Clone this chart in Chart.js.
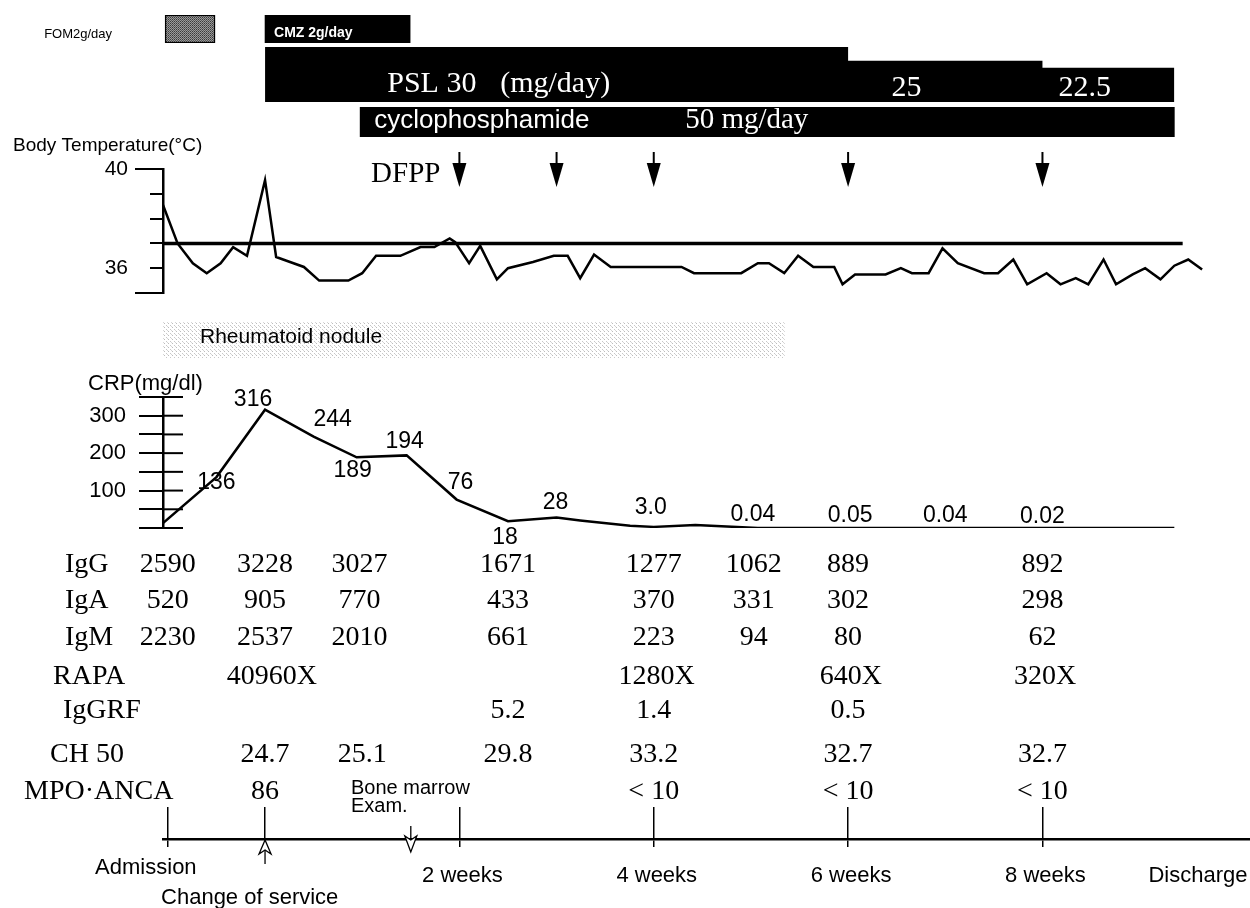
<!DOCTYPE html>
<html lang="en">
<head>
  <meta charset="UTF-8">
  <title>Clinical course</title>
  <script src="https://cdn.jsdelivr.net/npm/chart.js"></script>
  <style>
    * { margin: 0; padding: 0; box-sizing: border-box; }
    body { width: 1250px; height: 908px; background: #fff; position: relative; overflow: hidden; }
    canvas { position: absolute; left: 0; }
  </style>
</head>
<body>
  <canvas id="rowAntibiotic"></canvas>
  <canvas id="rowPsl"></canvas>
  <canvas id="rowCpa"></canvas>
  <canvas id="noduleRow"></canvas>
  <canvas id="tempChart"></canvas>
  <canvas id="timeline"></canvas>
  <canvas id="crpChart"></canvas>

  <script>
    // --- data (x = days counted from the change of service) ---
    const X_MIN = -7.35, X_MAX = 70.95;

    const fomDays = [-7.2, -3.6];
    const cmzDays = [0, 10.45];
    const pslDays = [0, 42, 56, 65.5];
    const pslDose = [30, 25, 22.5, 22.5];
    const pslText = ['PSL 30', '25', '22.5'];
    const cpaDays = [6.85, 65.5];
    const dfppDays = [14, 21, 28, 42, 56];
    const noduleDays = [-7.35, 37.4];

    const tempDays = [-7.35, -6.3, -5.2, -4.2, -3.2, -2.3, -1.3, 0, 0.8, 1.8, 2.8, 3.9, 6.0, 7.0, 8.0, 9.75,
      11.2, 12.2, 13.3, 13.7, 14.7, 15.5, 16.7, 17.5, 19.3, 20.8, 21.8, 22.7, 23.7, 24.9, 30.0, 30.9, 34.3,
      35.5, 36.3, 37.4, 38.4, 39.5, 41.0, 41.6, 42.5, 44.7, 45.8, 46.6, 47.8, 48.8, 49.9, 51.8, 52.8, 53.9,
      54.9, 56.3, 57.3, 58.4, 59.3, 60.4, 61.3, 62.5, 63.4, 64.5, 65.5, 66.5, 67.5];
    const tempValues = [38.55, 37.0, 36.2, 35.8, 36.2, 36.85, 36.5, 39.55, 36.45, 36.25, 36.05, 35.5, 35.5, 35.8,
      36.5, 36.5, 36.85, 36.85, 37.2, 37.05, 36.2, 36.9, 35.55, 36.0, 36.25, 36.5, 36.5, 35.6, 36.55, 36.05,
      36.05, 35.8, 35.8, 36.2, 36.2, 35.8, 36.5, 36.05, 36.05, 35.35, 35.75, 35.75, 36.0, 35.8, 35.8, 36.8,
      36.2, 35.8, 35.8, 36.35, 35.35, 35.8, 35.35, 35.6, 35.35, 36.35, 35.35, 35.75, 36.0, 35.55, 36.1,
      36.35, 35.95];
    const tempNormal = 37;
    const tempNormalSpan = [X_MIN, 66.1];

    const crpDays = [-7.35, -3.5, 0, 3.5, 6.6, 10.2, 13.8, 17.5, 21, 22.7, 26.3, 28, 31, 35.5, 42, 49, 56, 65.5];
    const crpValues = [13, 136, 316, 244, 189, 194, 76, 18, 28, 20, 6, 3.0, 8, 0.04, 0.05, 0.04, 0.02, 0.02];
    const crpText = [null, '136', '316', '244', '189', '194', '76', '18', '28', null, null, '3.0', null,
      '0.04', '0.05', '0.04', '0.02', null];

    const labDays = [-7, 0, 6.8, 17.5, 28, 35.2, 42, 56];
    const igG = ['2590', '3228', '3027', '1671', '1277', '1062', '889', '892'];
    const igA = ['520', '905', '770', '433', '370', '331', '302', '298'];
    const igM = ['2230', '2537', '2010', '661', '223', '94', '80', '62'];
    const rapaDays = [0.5, 28.2, 42.2, 56.2];
    const rapa = ['40960X', '1280X', '640X', '320X'];
    const igGrfDays = [17.5, 28, 42];
    const igGrf = ['5.2', '1.4', '0.5'];
    const ch50Days = [0, 7, 17.5, 28, 42, 56];
    const ch50 = ['24.7', '25.1', '29.8', '33.2', '32.7', '32.7'];
    const mpoDays = [0, 28, 42, 56];
    const mpoAnca = ['86', '< 10', '< 10', '< 10'];

    const milestoneDays = [-7, 0, 14, 28, 42, 56];
    const milestoneText = ['Admission', '', '2 weeks', '4 weeks', '6 weeks', '8 weeks'];
    const dischargeDay = 67.2;
    const serviceChangeDay = 0;
    const boneMarrowDay = 10.5;

    // --- helpers ---
    Chart.defaults.font.family = '"Liberation Sans", Arial, sans-serif';
    Chart.defaults.color = '#000';
    const AXIS_LEFT = 163;
    const SERIF = '"Liberation Serif", "Times New Roman", serif';
    const SANS = '"Liberation Sans", Arial, sans-serif';

    function setupCanvas(id, top, height) {
      const c = document.getElementById(id);
      c.width = 1250;
      c.height = height;
      c.style.top = top + 'px';
      return c;
    }

    function baseOptions(padding, scales) {
      return {
        responsive: false,
        animation: false,
        devicePixelRatio: 1,
        events: [],
        layout: { padding: padding },
        plugins: { legend: { display: false }, tooltip: { enabled: false } },
        scales: scales
      };
    }

    function dayAxis() {
      return { type: 'linear', min: X_MIN, max: X_MAX, display: false };
    }

    function toPoints(xs, ys) {
      return xs.map((x, i) => ({ x: x, y: ys[i] }));
    }

    function makePattern(size, bg, dots) {
      const p = document.createElement('canvas');
      p.width = size; p.height = size;
      const pc = p.getContext('2d');
      if (bg) { pc.fillStyle = bg; pc.fillRect(0, 0, size, size); }
      dots.forEach(d => { pc.fillStyle = d[2]; pc.fillRect(d[0], d[1], 1, 1); });
      return pc.createPattern(p, 'repeat');
    }

    const fomPattern = makePattern(2, '#9a9a9a', [[0, 0, '#3a3a3a'], [1, 1, '#5a5a5a']]);
    const nodulePattern = makePattern(4, null, [[0, 1, '#bdbdbd'], [2, 3, '#c8c8c8'], [3, 0, '#d6d6d6']]);

    function text(ctx, str, x, y, font, align, color, baseline) {
      ctx.save();
      ctx.font = font;
      ctx.textAlign = align || 'left';
      ctx.textBaseline = baseline || 'alphabetic';
      ctx.fillStyle = color || '#000';
      ctx.fillText(str, x, y);
      ctx.restore();
    }

    // --- FOM / CMZ row ---
    new Chart(setupCanvas('rowAntibiotic', 15, 28), {
      type: 'bar',
      data: {
        labels: [''],
        datasets: [
          { data: [fomDays], backgroundColor: fomPattern, borderColor: '#000', borderWidth: 1.5,
            borderSkipped: false, grouped: false, barPercentage: 1, categoryPercentage: 1 },
          { data: [cmzDays], backgroundColor: '#000', borderWidth: 0,
            grouped: false, barPercentage: 1, categoryPercentage: 1 }
        ]
      },
      options: Object.assign(baseOptions({ left: AXIS_LEFT }, { x: dayAxis(), y: { display: false } }), { indexAxis: 'y' }),
      plugins: [{
        id: 'antibioticText',
        afterDraw(chart) {
          const x = chart.scales.x;
          text(chart.ctx, 'FOM2g/day', x.getPixelForValue(fomDays[0]) - 53, 23, '13px ' + SANS, 'right');
          text(chart.ctx, 'CMZ 2g/day', x.getPixelForValue(cmzDays[0]) + 9, 22, 'bold 14px ' + SANS, 'left', '#fff');
        }
      }]
    });

    // --- PSL dose (stepped, filled) ---
    new Chart(setupCanvas('rowPsl', 47, 55), {
      type: 'line',
      data: {
        datasets: [{
          data: toPoints(pslDays, pslDose), stepped: true, fill: 'start',
          backgroundColor: '#000', borderColor: '#000', borderWidth: 0, pointRadius: 0
        }]
      },
      options: baseOptions({ left: AXIS_LEFT }, { x: dayAxis(), y: { type: 'linear', min: 10, max: 30, display: false } }),
      plugins: [{
        id: 'pslText',
        afterDraw(chart) {
          const x = chart.scales.x;
          const font = '30px ' + SERIF;
          const x0 = x.getPixelForValue(pslDays[0] + 8.8);
          text(chart.ctx, pslText[0], x0, 45, font, 'left', '#fff');
          text(chart.ctx, '(mg/day)', x0 + 113, 45, font, 'left', '#fff');
          text(chart.ctx, pslText[1], x.getPixelForValue(pslDays[1] + 4.2), 49, font, 'center', '#fff');
          text(chart.ctx, pslText[2], x.getPixelForValue(pslDays[2] + 3.05), 49, font, 'center', '#fff');
        }
      }]
    });

    // --- cyclophosphamide row ---
    new Chart(setupCanvas('rowCpa', 107, 30), {
      type: 'bar',
      data: {
        labels: [''],
        datasets: [{ data: [cpaDays], backgroundColor: '#000', borderWidth: 0, barPercentage: 1, categoryPercentage: 1 }]
      },
      options: Object.assign(baseOptions({ left: AXIS_LEFT }, { x: dayAxis(), y: { display: false } }), { indexAxis: 'y' }),
      plugins: [{
        id: 'cpaText',
        afterDraw(chart) {
          const x0 = chart.scales.x.getPixelForValue(cpaDays[0]);
          text(chart.ctx, 'cyclophosphamide', x0 + 14, 21, '26px ' + SANS, 'left', '#fff');
          text(chart.ctx, '50 mg/day', x0 + 325, 21, '29px ' + SERIF, 'left', '#fff');
        }
      }]
    });

    // --- rheumatoid nodule band ---
    new Chart(setupCanvas('noduleRow', 322, 36), {
      type: 'bar',
      data: {
        labels: [''],
        datasets: [{ data: [noduleDays], backgroundColor: nodulePattern, borderWidth: 0, barPercentage: 1, categoryPercentage: 1 }]
      },
      options: Object.assign(baseOptions({ left: AXIS_LEFT }, { x: dayAxis(), y: { display: false } }), { indexAxis: 'y' }),
      plugins: [{
        id: 'noduleText',
        afterDraw(chart) {
          text(chart.ctx, 'Rheumatoid nodule', 200, 21, '21px ' + SANS, 'left');
        }
      }]
    });

    // --- body temperature (chart area 169..293) ---
    new Chart(setupCanvas('tempChart', 130, 203), {
      type: 'line',
      data: {
        datasets: [
          { data: toPoints(tempDays, tempValues), borderColor: '#000', borderWidth: 2.5, pointRadius: 0, tension: 0 },
          { data: toPoints(tempNormalSpan, [tempNormal, tempNormal]), borderColor: '#000', borderWidth: 3.5, pointRadius: 0 }
        ]
      },
      options: baseOptions({ top: 39, bottom: 40 }, {
        x: dayAxis(),
        y: {
          type: 'linear', min: 35, max: 40,
          afterFit(scale) { scale.width = AXIS_LEFT; },
          ticks: { stepSize: 1, autoSkip: false, padding: 22, font: { size: 21 },
                   callback: v => (v === 40 || v === 36) ? String(v) : '' },
          grid: { drawOnChartArea: false, tickLength: 13, color: '#000', lineWidth: 2 },
          border: { color: '#000', width: 2.5 }
        }
      }),
      plugins: [{
        id: 'tempDecor',
        afterDraw(chart) {
          const ctx = chart.ctx, x = chart.scales.x, y = chart.scales.y;
          text(ctx, 'Body Temperature(°C)', 13, 21, '19px ' + SANS, 'left');
          ctx.save();
          ctx.strokeStyle = '#000';
          ctx.lineWidth = 2;
          [40, 35].forEach(v => {
            const py = y.getPixelForValue(v);
            ctx.beginPath(); ctx.moveTo(135, py); ctx.lineTo(152, py); ctx.stroke();
          });
          // DFPP arrows
          ctx.fillStyle = '#000';
          dfppDays.forEach(d => {
            const px = x.getPixelForValue(d);
            ctx.beginPath(); ctx.moveTo(px, 22); ctx.lineTo(px, 35); ctx.stroke();
            ctx.beginPath();
            ctx.moveTo(px - 7, 33); ctx.lineTo(px + 7, 33); ctx.lineTo(px, 57);
            ctx.closePath(); ctx.fill();
          });
          ctx.restore();
          text(ctx, 'DFPP', x.getPixelForValue(dfppDays[0]) - 19, 52, '29px ' + SERIF, 'right');
        }
      }]
    });

    // --- lab table + timeline axis ---
    const TOP = 540;
    const labRows = [
      { label: 'IgG', lx: 65, y: 565, days: labDays, values: igG },
      { label: 'IgA', lx: 65, y: 601, days: labDays, values: igA },
      { label: 'IgM', lx: 65, y: 638, days: labDays, values: igM },
      { label: 'RAPA', lx: 53, y: 677, days: rapaDays, values: rapa },
      { label: 'IgGRF', lx: 63, y: 711, days: igGrfDays, values: igGrf },
      { label: 'CH 50', lx: 50, y: 755, days: ch50Days, values: ch50 },
      { label: 'MPO·ANCA', lx: 24, y: 792, days: mpoDays, values: mpoAnca }
    ];

    function hollowArrow(ctx, px, tipY, dir, headLen, stemLen) {
      // dir = -1 points up, +1 points down
      const baseY = tipY - dir * headLen;
      const notchY = baseY + dir * 4;
      ctx.beginPath();
      ctx.moveTo(px, notchY - dir * stemLen);
      ctx.lineTo(px, notchY);
      ctx.stroke();
      ctx.beginPath();
      ctx.moveTo(px, tipY);
      ctx.lineTo(px - 6, baseY);
      ctx.lineTo(px, notchY);
      ctx.lineTo(px + 6, baseY);
      ctx.closePath();
      ctx.fillStyle = '#fff';
      ctx.fill();
      ctx.stroke();
    }

    new Chart(setupCanvas('timeline', TOP, 368), {
      type: 'line',
      data: { datasets: [] },
      options: baseOptions({ left: AXIS_LEFT, top: 267, bottom: 61 }, {
        x: {
          type: 'linear', min: X_MIN, max: X_MAX, position: 'bottom',
          afterBuildTicks(scale) { scale.ticks = milestoneDays.map(v => ({ value: v })); },
          afterFit(scale) { scale.height = 8; },
          ticks: { display: false },
          grid: { color: '#000', lineWidth: 1.5, tickLength: 8, drawOnChartArea: true },
          border: { color: '#000', width: 2.5 }
        },
        y: { type: 'linear', min: 0, max: 1, display: false }
      }),
      plugins: [{
        id: 'labTable',
        afterDraw(chart) {
          const ctx = chart.ctx, x = chart.scales.x;
          const font = '28px ' + SERIF;
          labRows.forEach(r => {
            text(ctx, r.label, r.lx, r.y - TOP, font, 'left', '#000', 'middle');
            r.values.forEach((v, i) => {
              text(ctx, v, x.getPixelForValue(r.days[i]), r.y - TOP, font, 'center', '#000', 'middle');
            });
          });

          // timeline labels
          const lab = '22px ' + SANS;
          milestoneText.forEach((s, i) => {
            if (!s) return;
            const px = x.getPixelForValue(milestoneDays[i]);
            if (i === 0) text(ctx, s, px - 22, 874 - TOP, lab, 'center');
            else text(ctx, s, px + 3, 882 - TOP, lab, 'center');
          });
          text(ctx, 'Discharge', x.getPixelForValue(dischargeDay), 882 - TOP, lab, 'center');

          // change of service
          const sx = x.getPixelForValue(serviceChangeDay);
          ctx.save();
          ctx.strokeStyle = '#000';
          ctx.lineWidth = 1.3;
          hollowArrow(ctx, sx, 840 - TOP, -1, 14, 14);
          ctx.restore();
          text(ctx, 'Change of service', sx - 104, 904 - TOP, lab, 'left');

          // bone marrow examination
          const bx = x.getPixelForValue(boneMarrowDay);
          ctx.save();
          ctx.strokeStyle = '#000';
          ctx.lineWidth = 1.3;
          hollowArrow(ctx, bx, 852 - TOP, 1, 16, 14);
          ctx.restore();
          text(ctx, 'Bone marrow', 351, 794 - TOP, '20px ' + SANS, 'left');
          text(ctx, 'Exam.', 351, 812 - TOP, '20px ' + SANS, 'left');
        }
      }]
    });

    // --- CRP (chart area 397..528) ---
    const crpLabelOffset = {
      1: [0, 6], 2: [-12, -10], 3: [19, -17], 4: [-4, 13], 5: [-2, -14], 6: [4, -17], 7: [-3, 16],
      8: [-1, -15], 11: [-3, -19], 13: [-5, -13], 14: [2, -12], 15: [0, -12], 16: [0, -11]
    };
    new Chart(setupCanvas('crpChart', 360, 198), {
      type: 'line',
      data: {
        datasets: [{ data: toPoints(crpDays, crpValues), borderColor: '#000', borderWidth: 2.5, pointRadius: 0, tension: 0 }]
      },
      options: baseOptions({ top: 37, bottom: 30 }, {
        x: dayAxis(),
        y: {
          type: 'linear', min: 0, max: 350,
          afterFit(scale) { scale.width = AXIS_LEFT; },
          ticks: { stepSize: 50, autoSkip: false, padding: 13, font: { size: 22 },
                   callback: v => (v === 100 || v === 200 || v === 300) ? String(v) : '' },
          grid: { drawOnChartArea: false, tickLength: 24, color: '#000', lineWidth: 2 },
          border: { color: '#000', width: 2.5 }
        }
      }),
      plugins: [{
        id: 'crpDecor',
        afterDraw(chart) {
          const ctx = chart.ctx, x = chart.scales.x, y = chart.scales.y;
          text(ctx, 'CRP(mg/dl)', 88, 30, '22px ' + SANS, 'left');
          ctx.save();
          ctx.strokeStyle = '#000';
          ctx.lineWidth = 2;
          y.ticks.forEach(t => {
            const py = y.getPixelForValue(t.value);
            ctx.beginPath(); ctx.moveTo(chart.chartArea.left, py); ctx.lineTo(chart.chartArea.left + 20, py); ctx.stroke();
          });
          ctx.restore();
          crpText.forEach((s, i) => {
            if (!s) return;
            const off = crpLabelOffset[i] || [0, -12];
            const px = x.getPixelForValue(crpDays[i]) + off[0];
            const py = y.getPixelForValue(crpValues[i]) + off[1];
            text(ctx, s, px, py, '23px ' + SANS, 'center', '#000', 'middle');
          });
        }
      }]
    });
  </script>
</body>
</html>
